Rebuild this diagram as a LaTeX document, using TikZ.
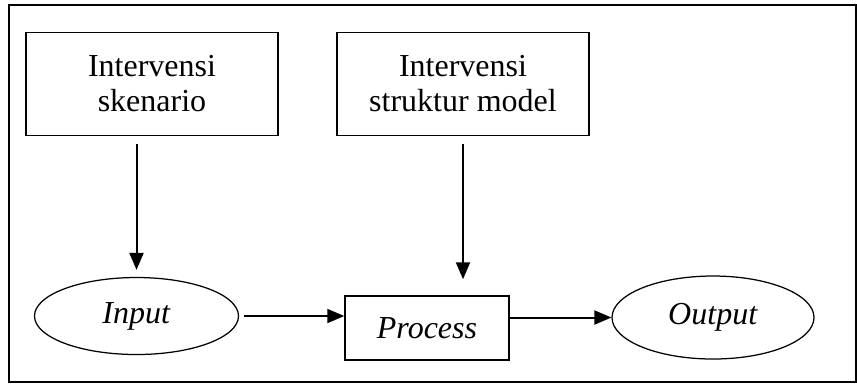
\documentclass[tikz,border=0pt]{standalone}
\usepackage{fontspec}
\setmainfont{Liberation Serif}
\usetikzlibrary{shapes.geometric, arrows, arrows.meta, positioning}
\tikzstyle{txt} = [font=\fontsize{12.8}{14}\selectfont]
\tikzstyle{box} = [txt, draw, line width=0.6pt, align=center, inner sep=0pt, minimum width=100.9pt, minimum height=41.2pt]
\tikzstyle{procbox} = [txt, draw, line width=0.6pt, inner sep=0pt, minimum width=65.6pt, minimum height=25.6pt]
\tikzstyle{oval} = [txt, draw, ellipse, line width=0.5pt, inner sep=0pt]
\tikzstyle{arrow} = [line width=0.8pt, -{Triangle[length=6.8pt,width=5.6pt]}]

\begin{document}
\begin{tikzpicture}[x=0.4pt, y=-0.4pt]
\useasboundingbox (0,0) rectangle (857,383);
\draw[line width=0.6pt] (9,5) rectangle (856,382);

\node[box] (skenario) at (152,84) {Intervensi\\skenario};
\node[box] (struktur) at (463,84) {Intervensi\\struktur model};

\node[oval, minimum width=81.6pt, minimum height=30.8pt] (input) at (136.5,316) {\textit{Input}};
\node[procbox] (process) at (427,328) {\textit{Process}};
\node[oval, minimum width=80.8pt, minimum height=33.2pt] (output) at (713,317.5) {\textit{Output}};

\draw [arrow, shorten <=3.2pt, shorten >=2.8pt] (input.north |- skenario.south) -- (input.north);
\draw [arrow, shorten <=3.2pt, shorten >=6.4pt] (struktur.south) -- (struktur.south |- process.north);
\draw [arrow, shorten <=2pt] (input.east) -- (input.east -| process.west);
\draw [arrow] (process.east |- output.west) -- (output.west);
\end{tikzpicture}
\end{document}
